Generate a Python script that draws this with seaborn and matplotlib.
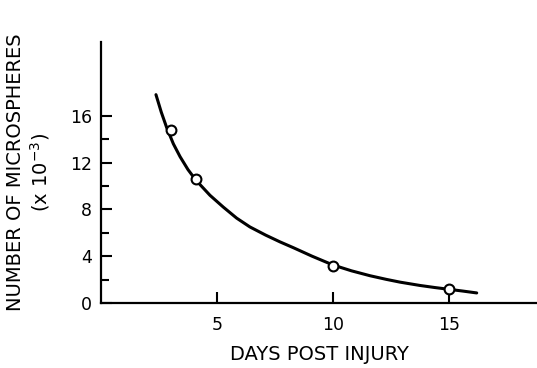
import matplotlib
matplotlib.use("Agg")
import matplotlib.pyplot as plt
import seaborn as sns
import pandas as pd

# Measured data points (days post injury, microspheres x 10^-3)
point_days = [3.0, 4.1, 10.0, 15.0]
point_counts = [14.8, 10.6, 3.2, 1.2]

# Fitted curve
curve_days = [2.37, 2.6, 2.83, 3.12, 3.41, 3.75, 4.09, 4.7, 5.27, 5.85, 6.42, 7.1,
              7.72, 8.3, 9.1, 10.0, 10.8, 11.6, 12.3, 12.9, 13.75, 14.4, 15.0, 15.6, 16.2]
curve_counts = [17.8, 16.3, 15.0, 13.6, 12.5, 11.4, 10.5, 9.2, 8.2, 7.25, 6.5, 5.8,
                5.22, 4.72, 4.0, 3.25, 2.75, 2.33, 2.02, 1.78, 1.5, 1.32, 1.17, 1.02, 0.86]

x_ticks = [5, 10, 15]
y_ticks = [0, 4, 8, 12, 16]
y_minor = [2, 6, 10, 14]

sns.set_theme(style="ticks")
plt.rcParams["font.family"] = ["DejaVu Sans"]
plt.rcParams["mathtext.default"] = "regular"

fig = plt.figure(figsize=(5.37, 3.68), dpi=100)
ax = fig.add_axes([101 / 537, 1 - 303 / 368, 436 / 537, 261 / 368])

curve = pd.DataFrame({"days": curve_days, "count": curve_counts})
pts = pd.DataFrame({"days": point_days, "count": point_counts})

sns.lineplot(data=curve, x="days", y="count", sort=False, color="black",
             linewidth=2.2, ax=ax, zorder=2)
sns.scatterplot(data=pts, x="days", y="count", s=50, marker="o",
                facecolor="white", edgecolor="black", linewidth=1.5,
                ax=ax, zorder=3)

ax.set_xlim(0, 18.8)
ax.set_ylim(0, 22.3)
ax.set_xticks(x_ticks)
ax.set_xticklabels([str(v) for v in x_ticks])
ax.set_yticks(y_ticks)
ax.set_yticklabels([str(v) for v in y_ticks])
ax.set_yticks(y_minor, minor=True)

for side in ("top", "right"):
    ax.spines[side].set_visible(False)
for side in ("left", "bottom"):
    ax.spines[side].set_color("black")
    ax.spines[side].set_linewidth(1.6)

ax.tick_params(axis="both", which="major", direction="in", length=8, width=1.5,
               color="black", labelsize=12.5, labelcolor="black")
ax.tick_params(axis="y", which="major", pad=6.5)
ax.tick_params(axis="x", which="major", pad=9.5)
ax.tick_params(axis="y", which="minor", direction="in", length=5.5, width=1.5,
               color="black", left=True)

ax.set_xlabel("DAYS POST INJURY", fontsize=14, color="black")
ax.xaxis.label.set_verticalalignment("center")
ax.xaxis.set_label_coords(0.502, -0.197)
ax.set_ylabel("NUMBER OF MICROSPHERES\n(x 10$^{-3}$)", fontsize=14,
              color="black", linespacing=1.15)
ax.yaxis.label.set_verticalalignment("center")
ax.yaxis.set_label_coords(-0.166, 0.5)

fig.savefig("out.png", dpi=100, facecolor="white")
